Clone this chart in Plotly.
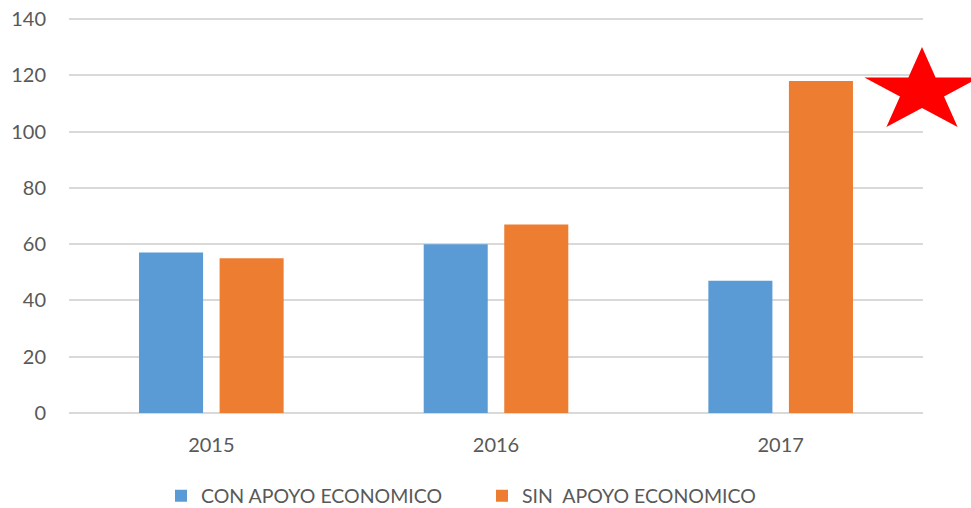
import math
import plotly.graph_objects as go

years = ["2015", "2016", "2017"]
con_apoyo = [57, 60, 47]
sin_apoyo = [55, 67, 118]
y_ticks = [0, 20, 40, 60, 80, 100, 120, 140]

W, H = 971, 508
ML, MR, MT, MB = 69, 48, 17, 95
PW, PH = W - ML - MR, H - MT - MB
Y_TOP = 140 * PH / 394.0  # keeps 0..140 spanning 394 px, 140 grid 2px below top

FONT = "Lato, 'Open Sans', sans-serif"
GRAY = "#595959"

fig = go.Figure()
fig.add_trace(go.Bar(x=years, y=con_apoyo, name="CON APOYO ECONOMICO",
                     marker=dict(color="#5b9bd5", line=dict(width=0))))
fig.add_trace(go.Bar(x=years, y=sin_apoyo, name="SIN\u00a0 APOYO ECONOMICO",
                     marker=dict(color="#ed7d31", line=dict(width=0))))

# star decoration (pixel geometry converted to paper coords)
cx, cy, R, r, sx = 922, 91.2, 44.2, 16.9, 1.37
pts = []
for k in range(10):
    ang = math.radians(-90 + 36 * k)
    rad = R if k % 2 == 0 else r
    px = cx + sx * rad * math.cos(ang)
    py = cy + rad * math.sin(ang)
    pts.append(((px - ML) / PW, (H - MB - py) / PH))
path = "M " + " L ".join(f"{x:.5f},{y:.5f}" for x, y in pts) + " Z"
fig.add_shape(type="path", path=path, xref="paper", yref="paper",
              fillcolor="#ff0000", line=dict(width=0), layer="above")

fig.update_layout(
    width=W, height=H,
    margin=dict(l=ML, r=MR, t=MT, b=MB, autoexpand=False),
    paper_bgcolor="white", plot_bgcolor="white",
    barmode="group", bargap=0.434, bargroupgap=0.205,
    font=dict(family=FONT, color=GRAY, size=20),
    showlegend=True,
    legend=dict(orientation="h", xref="container", yref="container",
                x=(201 - 40) / W, xanchor="left", y=(H - 496) / H, yanchor="middle",
                font=dict(size=19.5, color=GRAY), itemwidth=30,
                entrywidth=276, entrywidthmode="pixels", traceorder="normal",
                bgcolor="rgba(0,0,0,0)"),
    xaxis=dict(showgrid=False, showline=False, ticks="", automargin=False,
               tickfont=dict(size=20, color=GRAY), ticklabelstandoff=18),
    yaxis=dict(range=[0, Y_TOP], tickvals=y_ticks, showgrid=True, gridcolor="#d9d9d9",
               gridwidth=1.5, zeroline=True, zerolinecolor="#d9d9d9", zerolinewidth=1.5,
               showline=False, ticks="", automargin=False,
               tickfont=dict(size=20, color=GRAY), ticklabelstandoff=22),
)

fig.write_html("out.html", config={"displayModeBar": False},
               post_script="document.body.style.margin='0';document.body.style.overflow='hidden';")
